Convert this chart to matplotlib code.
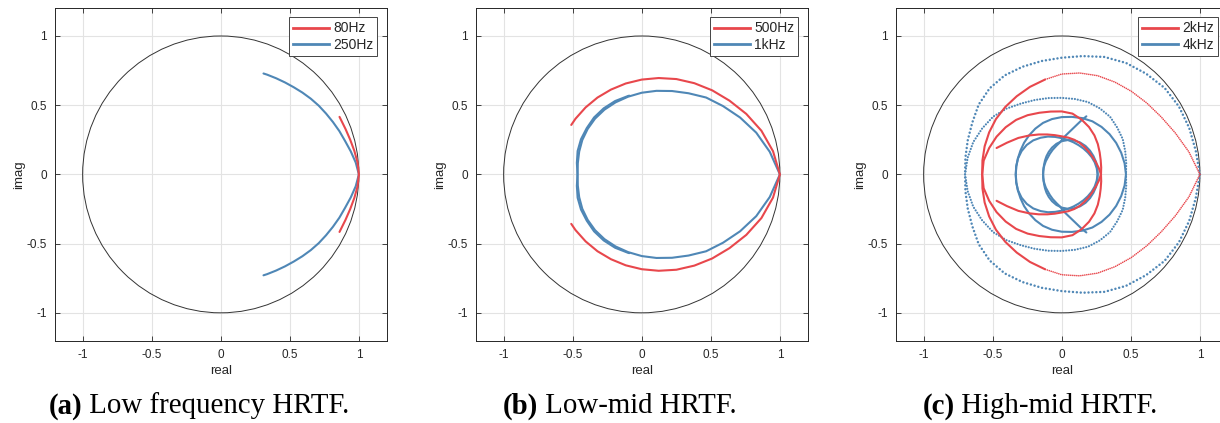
import matplotlib
matplotlib.use("Agg")
import matplotlib.pyplot as plt
import numpy as np
from matplotlib.patches import Circle
from matplotlib.offsetbox import TextArea, HPacker, AnnotationBbox

RED = "#E8474C"
BLUE = "#4F87B6"

# ---- data: each response for f >= 0 as (unwrapped phase in degrees, magnitude),
# starting at 1+0j; the f < 0 half is its complex conjugate (mirror about the real axis).
# Panel (a)
a80_ph = [0, 5, 10, 15, 20, 25.8]
a80_mag = [1.0, 0.994, 0.982, 0.970, 0.961, 0.955]
a250_ph = [0, 5, 10, 15, 20, 25, 30, 35, 40, 45, 50, 55, 60, 65, 67]
a250_mag = [1.0, 0.981, 0.956, 0.932, 0.914, 0.896, 0.880, 0.866, 0.851, 0.836, 0.822,
            0.811, 0.802, 0.795, 0.792]

# Panel (b)
b500_ph = [0, 10, 20, 30, 40, 50, 60, 70, 80, 90, 100, 110, 120, 130, 140, 145]
b500_mag = [1.0, 0.965, 0.922, 0.874, 0.829, 0.793, 0.761, 0.733, 0.707, 0.685, 0.667,
            0.652, 0.641, 0.632, 0.626, 0.623]
b1k_ph = [0, 10, 20, 30, 40, 50, 60, 70, 80, 90, 100, 110, 120, 130, 140, 150, 160, 170,
          180, 190, 200, 210, 220, 230, 240, 250, 260, 261]
b1k_mag = [1.0, 0.941, 0.882, 0.822, 0.768, 0.725, 0.677, 0.641, 0.613, 0.590, 0.570,
           0.554, 0.540, 0.526, 0.511, 0.497, 0.482, 0.470, 0.465, 0.477, 0.494, 0.508,
           0.520, 0.537, 0.551, 0.564, 0.575, 0.576]

# Panel (c)
c2k_ph = [0, 10, 20, 30, 40, 50, 60, 70, 80, 90, 100, 110, 120, 130, 140, 150, 160, 170,
          180, 190, 200, 210, 220, 230, 240, 250, 260, 270, 280, 290, 300, 310, 320, 330,
          340, 350, 360, 370, 380, 390, 400, 410, 420, 430, 440, 450, 460, 470, 480, 490,
          500, 510, 518]
c2k_mag = [1.0, 0.935, 0.875, 0.831, 0.803, 0.784, 0.770, 0.759, 0.744, 0.725, 0.696,
           0.673, 0.652, 0.636, 0.622, 0.607, 0.594, 0.583, 0.576, 0.574, 0.559, 0.545,
           0.530, 0.514, 0.494, 0.474, 0.461, 0.455, 0.446, 0.421, 0.395, 0.368, 0.341,
           0.317, 0.300, 0.290, 0.284, 0.272, 0.262, 0.256, 0.255, 0.257, 0.262, 0.266,
           0.270, 0.275, 0.288, 0.307, 0.333, 0.367, 0.410, 0.458, 0.509]
c4k_ph = [0, 10, 20, 30, 40, 50, 60, 70, 80, 90, 100, 110, 120, 130, 140, 150, 160, 170,
          180, 190, 200, 210, 220, 230, 240, 250, 260, 270, 280, 290, 300, 310, 320, 330,
          340, 350, 360, 370, 380, 390, 400, 410, 420, 430, 440, 450, 460, 470, 480, 490,
          500, 510, 520, 530, 540, 550, 560, 570, 580, 590, 600, 610, 620, 630, 640, 650,
          660, 670, 680, 690, 700, 710, 720, 730, 740, 750, 760, 770, 780, 790, 800, 810,
          820, 830, 840, 850, 860, 870, 880, 890, 900, 910, 920, 930, 940, 950, 960, 970,
          980, 986.5, 995, 1003.6, 1010, 1013]
c4k_mag = [1.0, 0.985, 0.982, 0.980, 0.972, 0.950, 0.930, 0.903, 0.868, 0.843, 0.832,
           0.828, 0.826, 0.812, 0.785, 0.748, 0.724, 0.708, 0.700,
           0.692, 0.682, 0.665, 0.649, 0.621, 0.591, 0.572, 0.560, 0.553, 0.553, 0.556,
           0.551, 0.544, 0.525, 0.510, 0.489, 0.474, 0.465,
           0.462, 0.458, 0.455, 0.452, 0.448, 0.443, 0.433, 0.422, 0.414, 0.406, 0.396,
           0.382, 0.368, 0.356, 0.345, 0.338, 0.334, 0.333, 0.335, 0.337, 0.336, 0.331,
           0.321, 0.306, 0.291, 0.275, 0.262, 0.253, 0.247, 0.244, 0.244, 0.246, 0.250,
           0.254, 0.257, 0.260, 0.262, 0.264, 0.265, 0.267, 0.268, 0.266, 0.261, 0.252,
           0.240, 0.224, 0.206, 0.188, 0.172, 0.158, 0.147, 0.140, 0.136, 0.135, 0.136,
           0.139, 0.143, 0.150, 0.158, 0.172, 0.190, 0.212, 0.231, 0.278, 0.340, 0.415,
           0.456]

labels_a = ["80Hz", "250Hz"]
labels_b = ["500Hz", "1kHz"]
labels_c = ["2kHz", "4kHz"]
ticks = [-1, -0.5, 0, 0.5, 1]
tick_labels = ["-1", "-0.5", "0", "0.5", "1"]

W, H = 1220, 423
fig = plt.figure(figsize=(W / 100, H / 100), dpi=100)

SANS = ["Liberation Sans", "DejaVu Sans"]
SERIF = ["Liberation Serif", "DejaVu Serif"]
TXT = "#262626"


def make_axes(left_px):
    ax = fig.add_axes([left_px / W, (H - 340.5) / H, 331.5 / W, 332.2 / H])
    ax.set_xlim(-1.2, 1.2)
    ax.set_ylim(-1.2, 1.2)
    ax.set_xticks(ticks)
    ax.set_yticks(ticks)
    ax.set_xticklabels(tick_labels, family=SANS, fontsize=8.5, color=TXT)
    ax.set_yticklabels(tick_labels, family=SANS, fontsize=8.5, color=TXT)
    ax.tick_params(direction="in", length=3.5, width=0.6, top=True, right=True,
                   color=TXT, pad=6)
    ax.grid(True, color="#E3E3E3", lw=0.8)
    ax.set_axisbelow(True)
    for s in ax.spines.values():
        s.set_color(TXT)
        s.set_linewidth(0.7)
    ax.set_xlabel("real", family=SANS, fontsize=9.5, color=TXT, labelpad=3)
    ax.set_ylabel("imag", family=SANS, fontsize=9.5, color=TXT, labelpad=0.5)
    ax.add_patch(Circle((0, 0), 1.0, fill=False, ec="#333333", lw=0.7, zorder=2))
    return ax


def pair(ax, ph, mag, color, lw=1.5, ls="-", z=3, lo=None, hi=None):
    ph = np.asarray(ph, float)
    mag = np.asarray(mag, float)
    sel = np.ones(len(ph), bool)
    if lo is not None:
        sel &= ph >= lo
    if hi is not None:
        sel &= ph <= hi
    z_c = mag[sel] * np.exp(1j * np.deg2rad(ph[sel]))
    kw = dict(color=color, lw=lw, ls=ls, zorder=z, dash_capstyle="round",
              solid_capstyle="round", solid_joinstyle="round")
    ax.plot(z_c.real, z_c.imag, **kw)
    ax.plot(z_c.real, -z_c.imag, **kw)


def legend(ax, labels):
    h1 = plt.Line2D([], [], color=RED, lw=2.0)
    h2 = plt.Line2D([], [], color=BLUE, lw=2.0)
    lg = ax.legend([h1, h2], labels, loc="upper right",
                   prop=dict(family=SANS, size=10), fancybox=False, framealpha=1,
                   edgecolor="#444444", borderpad=0.3, labelspacing=0.15,
                   handlelength=2.6, handletextpad=0.3, borderaxespad=0.65)
    lg.get_frame().set_linewidth(0.7)
    for t in lg.get_texts():
        t.set_color(TXT)


# (a)
ax = make_axes(55)
pair(ax, a250_ph, a250_mag, BLUE, z=3)
pair(ax, a80_ph, a80_mag, RED, z=4)
legend(ax, labels_a)

# (b)
ax = make_axes(476)
pair(ax, b1k_ph, b1k_mag, BLUE, z=3)
pair(ax, b500_ph, b500_mag, RED, z=4)
legend(ax, labels_b)

# (c)  sparse samples on the fast outer turns are drawn dotted
ax = make_axes(896)
pair(ax, c4k_ph, c4k_mag, BLUE, lw=1.8, ls=(0, (0.01, 1.55)), z=3, hi=180)
pair(ax, c4k_ph, c4k_mag, BLUE, lw=1.6, ls=(0, (0.01, 1.3)), z=3, lo=180, hi=360)
pair(ax, c4k_ph, c4k_mag, BLUE, lw=1.5, z=3, lo=360)
pair(ax, c2k_ph, c2k_mag, RED, lw=1.2, ls=(0, (0.01, 1.2)), z=4, hi=100)
pair(ax, c2k_ph, c2k_mag, RED, lw=1.5, z=4, lo=100)
legend(ax, labels_c)

# captions
caps = [("(a)", " Low frequency HRTF.", 199),
        ("(b)", " Low-mid HRTF.", 620),
        ("(c)", " High-mid HRTF.", 1040)]
for b, t, xc in caps:
    ta = TextArea(b, textprops=dict(family=SERIF, fontweight="bold", size=20.8, color="black"))
    tb = TextArea(t, textprops=dict(family=SERIF, size=20.8, color="black"))
    pk = HPacker(children=[ta, tb], pad=0, sep=0, align="baseline")
    ab = AnnotationBbox(pk, (xc / W, 1 - 406 / H), xycoords="figure fraction",
                        frameon=False, box_alignment=(0.5, 0.5))
    fig.add_artist(ab)

fig.savefig("out.png", dpi=100)
